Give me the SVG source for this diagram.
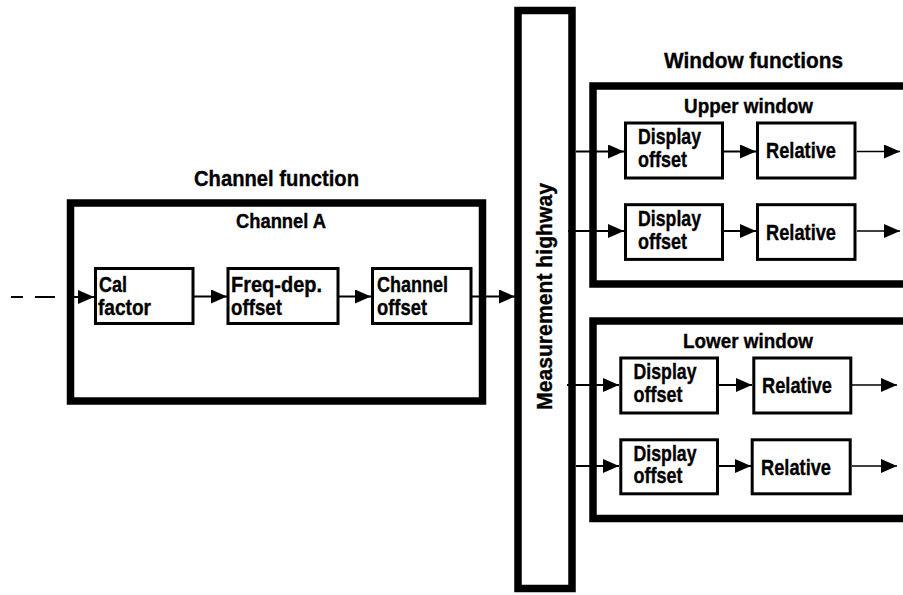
<svg xmlns="http://www.w3.org/2000/svg" width="903" height="595" viewBox="0 0 903 595">
<style>
  .big { fill: none; stroke: #000; stroke-width: 7.5; }
  .box { fill: #fff; stroke: #000; stroke-width: 3; }
  .conn { fill: none; stroke: #000; stroke-width: 2; }
  .thin { fill: none; stroke: #000; stroke-width: 1.3; }
  text { font-family: "Liberation Sans", Arial, Helvetica, sans-serif; font-weight: bold; fill: #000; stroke: #000; stroke-width: 0.35; }
  .h1 { font-size: 22px; }
  .h2 { font-size: 20px; }
  .t { font-size: 21.5px; }
</style>
<defs>
  <marker id="ah" markerUnits="userSpaceOnUse" viewBox="0 0 16 14" refX="16" refY="7" markerWidth="16" markerHeight="14" orient="auto">
    <path d="M0,0 L16,7 L0,14 z" fill="#000"/>
  </marker>
</defs>
<rect width="903" height="595" fill="#fff"/>

<g id="channel-function">
  <text class="h1" x="194" y="186" textLength="165" lengthAdjust="spacingAndGlyphs">Channel function</text>
  <rect class="big" x="70.5" y="203" width="412" height="198"/>
  <text class="h2" x="236" y="228.3" textLength="90" lengthAdjust="spacingAndGlyphs">Channel A</text>
</g>

<g id="cal-factor">
  <rect class="box" x="95.5" y="268.5" width="97.5" height="55"/>
  <text class="t" x="99" y="291.5" textLength="28" lengthAdjust="spacingAndGlyphs">Cal</text>
  <text class="t" x="98" y="315" textLength="53" lengthAdjust="spacingAndGlyphs">factor</text>
</g>

<g id="freq-dep-offset">
  <rect class="box" x="228" y="268.5" width="110" height="55"/>
  <text class="t" x="231" y="291.5" textLength="91" lengthAdjust="spacingAndGlyphs">Freq-dep.</text>
  <text class="t" x="231" y="315" textLength="51" lengthAdjust="spacingAndGlyphs">offset</text>
</g>

<g id="channel-offset">
  <rect class="box" x="372.5" y="268.5" width="98.5" height="55"/>
  <text class="t" x="377" y="291.5" textLength="71" lengthAdjust="spacingAndGlyphs">Channel</text>
  <text class="t" x="377" y="315" textLength="50" lengthAdjust="spacingAndGlyphs">offset</text>
</g>

<g id="measurement-highway">
  <rect class="big" x="518" y="10.5" width="54" height="578"/>
  <text class="h1" transform="translate(551.5 296.5) rotate(-90)" text-anchor="middle" textLength="227" lengthAdjust="spacingAndGlyphs">Measurement highway</text>
</g>

<g id="window-functions">
  <text class="h1" x="664" y="68" textLength="179" lengthAdjust="spacingAndGlyphs">Window functions</text>
</g>

<g id="upper-window">
  <rect class="big" x="593" y="86" width="330" height="198"/>
  <text class="h2" x="684" y="113.3" textLength="129" lengthAdjust="spacingAndGlyphs">Upper window</text>
</g>

<g id="upper-display-offset-1">
  <rect class="box" x="625.5" y="123" width="97" height="55"/>
  <text class="t" x="638" y="144" textLength="63" lengthAdjust="spacingAndGlyphs">Display</text>
  <text class="t" x="638" y="166.5" textLength="49" lengthAdjust="spacingAndGlyphs">offset</text>
</g>
<g id="upper-relative-1">
  <rect class="box" x="757.5" y="123" width="97.5" height="55"/>
  <text class="t" x="766" y="157.5" textLength="70" lengthAdjust="spacingAndGlyphs">Relative</text>
</g>

<g id="upper-display-offset-2">
  <rect class="box" x="625.5" y="204.7" width="97" height="54.7"/>
  <text class="t" x="638" y="226" textLength="63" lengthAdjust="spacingAndGlyphs">Display</text>
  <text class="t" x="638" y="248.5" textLength="49" lengthAdjust="spacingAndGlyphs">offset</text>
</g>
<g id="upper-relative-2">
  <rect class="box" x="757.5" y="204.7" width="97.5" height="54.7"/>
  <text class="t" x="766" y="239.5" textLength="70" lengthAdjust="spacingAndGlyphs">Relative</text>
</g>

<g id="lower-window">
  <rect class="big" x="593" y="321" width="330" height="197.5"/>
  <text class="h2" x="683" y="348.3" textLength="130" lengthAdjust="spacingAndGlyphs">Lower window</text>
</g>

<g id="lower-display-offset-1">
  <rect class="box" x="620.8" y="358" width="96.7" height="55"/>
  <text class="t" x="633.5" y="379" textLength="63" lengthAdjust="spacingAndGlyphs">Display</text>
  <text class="t" x="633.5" y="401.5" textLength="49" lengthAdjust="spacingAndGlyphs">offset</text>
</g>
<g id="lower-relative-1">
  <rect class="box" x="753.8" y="358" width="97" height="55"/>
  <text class="t" x="762" y="392.5" textLength="70" lengthAdjust="spacingAndGlyphs">Relative</text>
</g>

<g id="lower-display-offset-2">
  <rect class="box" x="620.8" y="439.8" width="96.7" height="54"/>
  <text class="t" x="633.5" y="460.5" textLength="63" lengthAdjust="spacingAndGlyphs">Display</text>
  <text class="t" x="633.5" y="483" textLength="49" lengthAdjust="spacingAndGlyphs">offset</text>
</g>
<g id="lower-relative-2">
  <rect class="box" x="752.2" y="439.8" width="98" height="54"/>
  <text class="t" x="761" y="474.5" textLength="70" lengthAdjust="spacingAndGlyphs">Relative</text>
</g>

<g id="connectors">
  <path class="conn" d="M11 297 H23 M35 297 H55"/>
  <line class="conn" x1="67" y1="297" x2="94" y2="297" marker-end="url(#ah)"/>
  <line class="conn" x1="194" y1="296.5" x2="227" y2="296.5" marker-end="url(#ah)"/>
  <line class="conn" x1="339" y1="296.5" x2="371" y2="296.5" marker-end="url(#ah)"/>
  <line class="conn" x1="472" y1="296.5" x2="515" y2="296.5" marker-end="url(#ah)"/>

  <line class="conn" x1="576" y1="151.5" x2="624" y2="151.5" marker-end="url(#ah)"/>
  <line class="conn" x1="724" y1="151.5" x2="756" y2="151.5" marker-end="url(#ah)"/>
  <line class="thin" x1="857" y1="151.5" x2="900" y2="151.5" marker-end="url(#ah)"/>

  <line class="conn" x1="568" y1="231" x2="624" y2="231" marker-end="url(#ah)"/>
  <line class="conn" x1="724" y1="231" x2="756" y2="231" marker-end="url(#ah)"/>
  <line class="thin" x1="857" y1="231" x2="900" y2="231" marker-end="url(#ah)"/>

  <line class="conn" x1="567" y1="385" x2="619" y2="385" marker-end="url(#ah)"/>
  <line class="conn" x1="719" y1="385" x2="752" y2="385" marker-end="url(#ah)"/>
  <line class="thin" x1="852" y1="385" x2="897" y2="385" marker-end="url(#ah)"/>

  <line class="conn" x1="576" y1="466" x2="619" y2="466" marker-end="url(#ah)"/>
  <line class="conn" x1="719" y1="466" x2="751" y2="466" marker-end="url(#ah)"/>
  <line class="thin" x1="852" y1="466" x2="897" y2="466" marker-end="url(#ah)"/>
</g>
</svg>
